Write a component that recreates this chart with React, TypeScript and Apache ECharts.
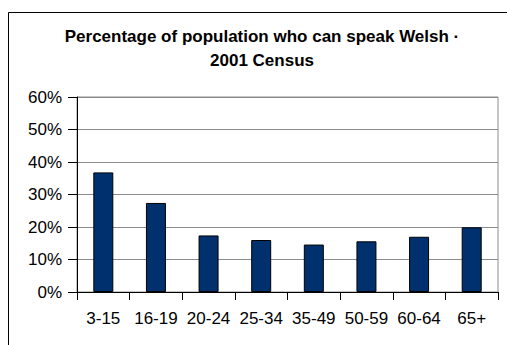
import React, { useEffect, useRef } from "react";
import * as echarts from "echarts";

const ageGroups = ["3-15", "16-19", "20-24", "25-34", "35-49", "50-59", "60-64", "65+"];
const welshSpeakers = [36.8, 27.4, 17.4, 16.0, 14.6, 15.6, 17.0, 19.9];
const titleLines = ["Percentage of population who can speak Welsh ·", "2001 Census"];

const FONT = "'Liberation Sans', Arial, sans-serif";

export default function App() {
  const ref = useRef<HTMLDivElement>(null);

  useEffect(() => {
    if (!ref.current) return;
    const chart = echarts.init(ref.current, null, { renderer: "svg" });
    chart.setOption({
      animation: false,
      backgroundColor: "#ffffff",
      graphic: [
        {
          type: "rect",
          shape: { x: 8.5, y: 12.5, width: 620, height: 420 },
          style: { fill: "none", stroke: "#000000", lineWidth: 1 },
          silent: true,
        },
        {
          type: "text",
          x: 262,
          y: 36.7,
          style: {
            text: titleLines[0],
            fontFamily: FONT,
            fontSize: 17,
            fontWeight: "bold",
            fill: "#000000",
            textAlign: "center",
            textVerticalAlign: "middle",
          },
        },
        {
          type: "text",
          x: 262,
          y: 60,
          style: {
            text: titleLines[1],
            fontFamily: FONT,
            fontSize: 17,
            fontWeight: "bold",
            fill: "#000000",
            textAlign: "center",
            textVerticalAlign: "middle",
          },
        },
      ],
      grid: {
        left: 77,
        right: 9,
        top: 97,
        bottom: 53,
        show: true,
        borderColor: "#8c8c8c",
        borderWidth: 1,
        backgroundColor: "transparent",
      },
      xAxis: {
        type: "category",
        data: ageGroups,
        boundaryGap: true,
        axisLine: { show: true, lineStyle: { color: "#000000", width: 1 } },
        axisTick: { show: true, alignWithLabel: false, length: 8, lineStyle: { color: "#000000" } },
        axisLabel: {
          interval: 0,
          margin: 18,
          fontFamily: FONT,
          fontSize: 17,
          color: "#000000",
        },
        splitLine: { show: false },
      },
      yAxis: {
        type: "value",
        min: 0,
        max: 60,
        interval: 10,
        axisLine: { show: true, lineStyle: { color: "#000000", width: 1 } },
        axisTick: { show: true, length: 9, lineStyle: { color: "#000000" } },
        axisLabel: {
          formatter: "{value}%",
          margin: 15,
          fontFamily: FONT,
          fontSize: 17,
          color: "#000000",
        },
        splitLine: { show: true, lineStyle: { color: "#8c8c8c", width: 1 } },
      },
      series: [
        {
          type: "bar",
          data: welshSpeakers,
          barWidth: 20,
          itemStyle: {
            color: "#00306e",
            borderColor: "#000000",
            borderWidth: 1,
          },
        },
      ],
    });
    return () => chart.dispose();
  }, []);

  return (
    <div
      ref={ref}
      style={{ position: "absolute", left: 0, top: 0, width: 507, height: 345 }}
    />
  );
}
